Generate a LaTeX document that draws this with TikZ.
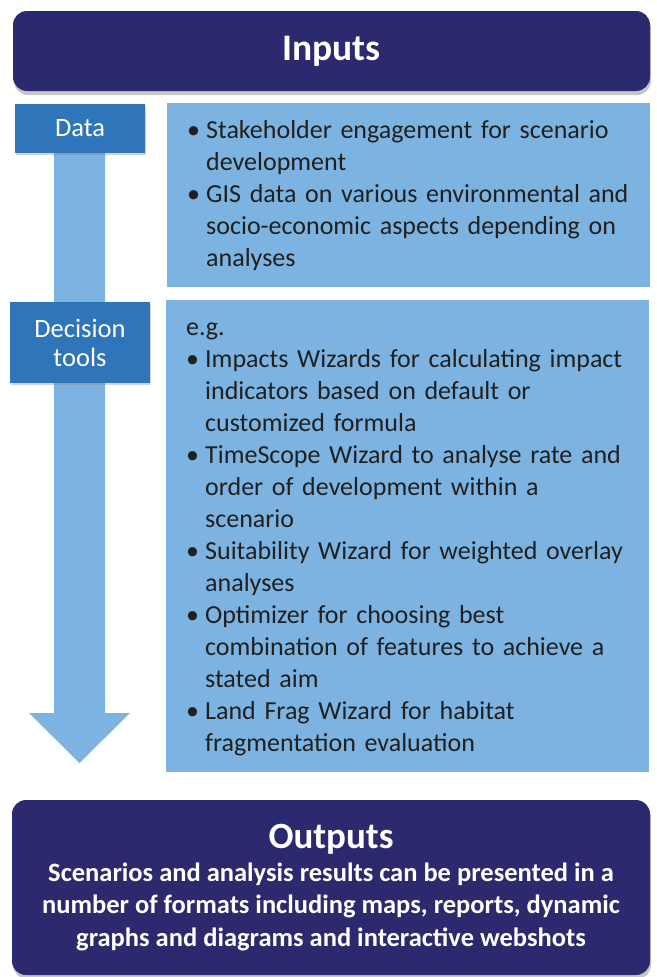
\documentclass[tikz,border=0pt]{standalone}
\usepackage{fontspec}
\setmainfont{Carlito}
\usetikzlibrary{positioning,shadows,backgrounds}
\definecolor{navy}{RGB}{43,42,110}
\definecolor{midblue}{RGB}{47,117,185}
\definecolor{paleblue}{RGB}{124,179,224}
\definecolor{inktext}{RGB}{32,32,32}
\newcommand\bul{\par\hangindent=19pt\hangafter=1\noindent\makebox[19pt][l]{\textbullet}}

\begin{document}
\begin{tikzpicture}[x=1pt,y=-1pt,
banner/.style={draw=none,fill=navy,rounded corners=14pt,text=white,font=\bfseries,align=center,
  drop shadow={opacity=0.45,shadow xshift=1pt,shadow yshift=-4pt}},
tab/.style={fill=midblue,minimum width=#1,text=white,align=center,inner sep=0pt,
  font=\fontsize{26.5}{29}\selectfont,drop shadow={opacity=0.35,shadow xshift=1pt,shadow yshift=-2pt}},
panel/.style={fill=paleblue,anchor=north west,align=left,text=inktext,inner xsep=20pt,inner ysep=0pt,
  font=\fontsize{26}{32}\selectfont,minimum width=483pt,text width=443pt}]
\useasboundingbox (0,0) rectangle (656,977);

\node[banner,minimum width=637pt,minimum height=80pt,font=\bfseries\fontsize{37.5}{40}\selectfont] (inputs) at (331.5,51) {Inputs};

\node[tab=130pt,minimum height=49pt] (data) at (80,128.5) {Data};
\node[tab=140pt,minimum height=81pt] (tools) at (80,342.5) {Decision\\tools};

\node[panel,minimum height=184pt] (datatext) at (167,103) {%
\bul Stakeholder engagement for scenario\newline development
\bul GIS data on various environmental and\newline socio-economic aspects depending on\newline analyses\par\vspace*{14pt}};

\node[panel,minimum height=472pt] (toolstext) at (166,300) {%
e.g.
\bul Impacts Wizards for calculating impact\newline indicators based on default or\newline customized formula
\bul TimeScope Wizard to analyse rate and\newline order of development within a\newline scenario
\bul Suitability Wizard for weighted overlay\newline analyses
\bul Optimizer for choosing best\newline combination of features to achieve a\newline stated aim
\bul Land Frag Wizard for habitat\newline fragmentation evaluation\par\vspace*{-6pt}};

\node[banner,minimum width=638pt,minimum height=175pt,font=\bfseries\fontsize{26.5}{32.5}\selectfont] (outputs) at (331,887.5)
  {{\fontsize{37}{40}\selectfont Outputs}\\Scenarios and analysis results can be presented in a\\number of formats including maps, reports, dynamic\\graphs and diagrams and interactive webshots};

% downward flow arrow behind the tabs
\coordinate (tip) at (79.5,763);
\begin{scope}[on background layer]
\fill[paleblue] ([xshift=-26pt]data.south) -- ([xshift=25pt]data.south) -- (105,713) -- (130,713) -- (tip) -- (29,713) -- (54,713) -- cycle;
\end{scope}
\end{tikzpicture}
\end{document}
